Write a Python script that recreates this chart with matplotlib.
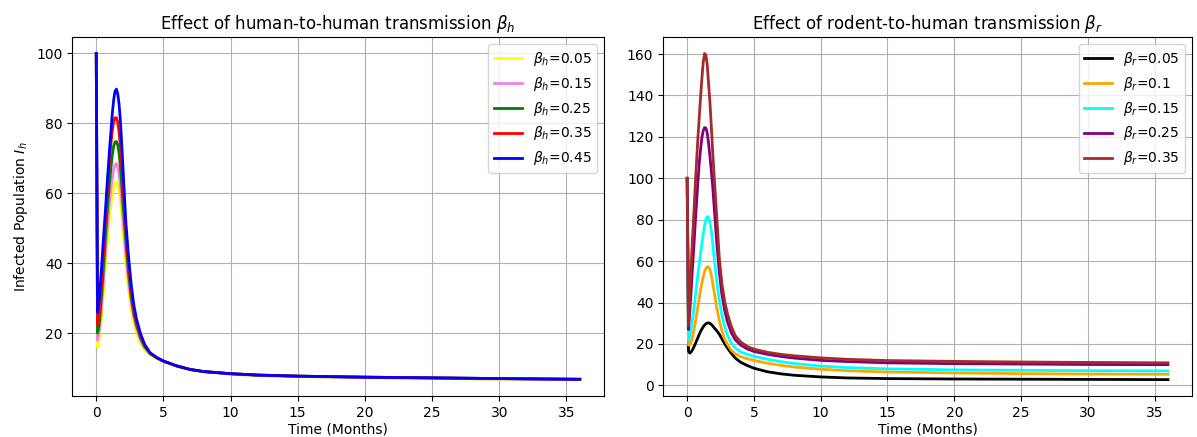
import matplotlib
matplotlib.use("Agg")
import matplotlib.pyplot as plt

# time grid (months) shared by all curves
t = [0, 0.1, 0.2, 0.3, 0.4, 0.5, 0.6, 0.7, 0.8, 0.9, 1.0, 1.1, 1.2, 1.3, 1.4,
     1.5, 1.6, 1.7, 1.8, 1.9, 2.0, 2.2, 2.4, 2.6, 2.8, 3.0, 3.3, 3.6, 4.0, 4.5,
     5, 6, 7, 8, 10, 12, 15, 20, 25, 30, 36]

# --- effect of beta_h ---
beta_h_labels = ["0.05", "0.15", "0.25", "0.35", "0.45"]
beta_h_colors = ["yellow", "violet", "green", "red", "blue"]
Ih_bh005 = [100, 16, 18, 21, 25, 30, 35, 40, 45, 49.5, 53.5, 57, 60, 62, 63,
            63.2, 62.5, 60.5, 57.5, 53.5, 49, 40, 32.5, 27, 23, 20, 17, 15.2, 13.8, 12.7,
            11.9, 10.5, 9.5, 8.9, 8.2, 7.8, 7.5, 7.2, 7.0, 6.8, 6.7]
Ih_bh015 = [100, 18, 20, 23.5, 28, 33, 38.5, 44, 49, 54, 58, 61.5, 64.5, 66.8, 68.2,
            68.5, 67.5, 65.5, 62, 57.5, 52.5, 43, 35, 29, 24.5, 21.5, 18, 15.8, 14.1, 12.9,
            12.0, 10.6, 9.6, 9.0, 8.3, 7.9, 7.6, 7.3, 7.1, 6.9, 6.75]
Ih_bh025 = [100, 20, 22, 26, 31, 36.5, 42.5, 48.5, 54, 59, 63.5, 67.5, 71, 73.5, 74.7,
            74.8, 73.8, 71.5, 67.5, 62.5, 57, 46.5, 37.5, 30.5, 25.5, 22.3, 18.6, 16.2, 14.2, 13.0,
            12.0, 10.6, 9.6, 9.0, 8.4, 8.0, 7.7, 7.4, 7.2, 7.0, 6.8]
Ih_bh035 = [100, 22.5, 24.5, 29, 34.5, 40.5, 47, 53.5, 59.5, 65, 70, 74.5, 78, 80.5, 81.6,
            81.6, 80.3, 77.5, 73.3, 68, 62, 49.5, 39.5, 32, 26.5, 23, 19.2, 16.5, 14.3, 13.0,
            12.0, 10.6, 9.6, 9.0, 8.4, 8.0, 7.7, 7.4, 7.2, 7.0, 6.8]
Ih_bh045 = [100, 26, 29, 33.5, 39, 45, 50.5, 56, 62, 67.5, 73, 78, 83, 86.8, 89.2,
            89.8, 88.5, 85.5, 80.5, 74, 66.5, 52, 42, 34, 28, 24, 19.8, 16.8, 14.4, 13.0,
            12.0, 10.6, 9.6, 9.0, 8.4, 8.0, 7.7, 7.4, 7.2, 7.0, 6.8]

# --- effect of beta_r ---
beta_r_labels = ["0.05", "0.1", "0.15", "0.25", "0.35"]
beta_r_colors = ["black", "orange", "cyan", "purple", "brown"]
Ih_br005 = [100, 16.5, 15.6, 16.2, 17.2, 18.5, 20, 21.5, 23, 24.6, 26, 27.2, 28.3, 29.1, 29.7,
            30.1, 30.2, 30.0, 29.5, 28.8, 28, 26.5, 24.8, 22.5, 20.2, 18.2, 15.5, 13.2, 11.2, 9.6,
            8.3, 6.6, 5.6, 4.9, 4.1, 3.6, 3.3, 3.1, 3.0, 2.9, 2.8]
Ih_br01 = [100, 19.5, 19.5, 21, 23.5, 26.5, 30, 34, 38, 42, 46, 49.5, 52.5, 55, 56.5,
           57.2, 57.2, 56, 53.5, 50, 46, 38, 31.5, 26.5, 22.5, 20, 17, 15.3, 13.9, 12.9,
           12.1, 10.7, 9.7, 8.9, 7.8, 7.1, 6.5, 6.0, 5.7, 5.5, 5.4]
Ih_br015 = [100, 22, 24, 27.5, 32, 37, 42.5, 48, 53.5, 58.5, 63.5, 68.5, 73, 77, 80,
            81.5, 81, 79, 75, 69.5, 63, 51, 41.5, 34, 28.5, 24.5, 20.5, 18.1, 16.2, 15.0,
            14.1, 12.6, 11.5, 10.6, 9.3, 8.6, 8.0, 7.5, 7.3, 7.1, 7.0]
Ih_br025 = [100, 27, 36, 46, 57, 67, 78, 88, 98, 107, 114, 119.5, 123, 124.5, 124.3,
            122, 117, 111, 104, 97, 88, 70, 55, 44, 36.5, 31, 25.5, 22, 19.5, 17.6,
            16.4, 15, 14, 13.2, 12.1, 11.5, 10.9, 10.5, 10.3, 10.1, 10.0]
Ih_br035 = [100, 29, 45, 58, 71, 83, 96, 108, 119, 129, 139, 148, 156, 160.3, 159.5,
            155, 146, 137, 126, 114, 103, 83, 62, 49, 41, 35, 28.5, 24, 21, 18.8,
            17.5, 16, 15, 14.3, 13.3, 12.6, 12.0, 11.6, 11.3, 11.1, 10.9]

fig = plt.figure(figsize=(11.97, 4.37), dpi=100)
ax1 = fig.add_axes([0.0602, 0.094, 0.4444, 0.821])
ax2 = fig.add_axes([0.554, 0.094, 0.4418, 0.821])

for lab, col, y in zip(beta_h_labels, beta_h_colors,
                       [Ih_bh005, Ih_bh015, Ih_bh025, Ih_bh035, Ih_bh045]):
    ax1.plot(t, y, color=col, lw=2, label=r"$\beta_h$=" + lab)
ax1.set_title(r"Effect of human-to-human transmission $\beta_h$")
ax1.set_xlabel("Time (Months)", labelpad=2)
ax1.set_ylabel(r"Infected Population $I_h$")
ax1.legend(loc="upper right")
ax1.grid(True)

for lab, col, y in zip(beta_r_labels, beta_r_colors,
                       [Ih_br005, Ih_br01, Ih_br015, Ih_br025, Ih_br035]):
    ax2.plot(t, y, color=col, lw=2, label=r"$\beta_r$=" + lab)
ax2.set_title(r"Effect of rodent-to-human transmission $\beta_r$")
ax2.set_xlabel("Time (Months)", labelpad=2)
ax2.legend(loc="upper right")
ax2.grid(True)

fig.savefig("out.png", dpi=100)
